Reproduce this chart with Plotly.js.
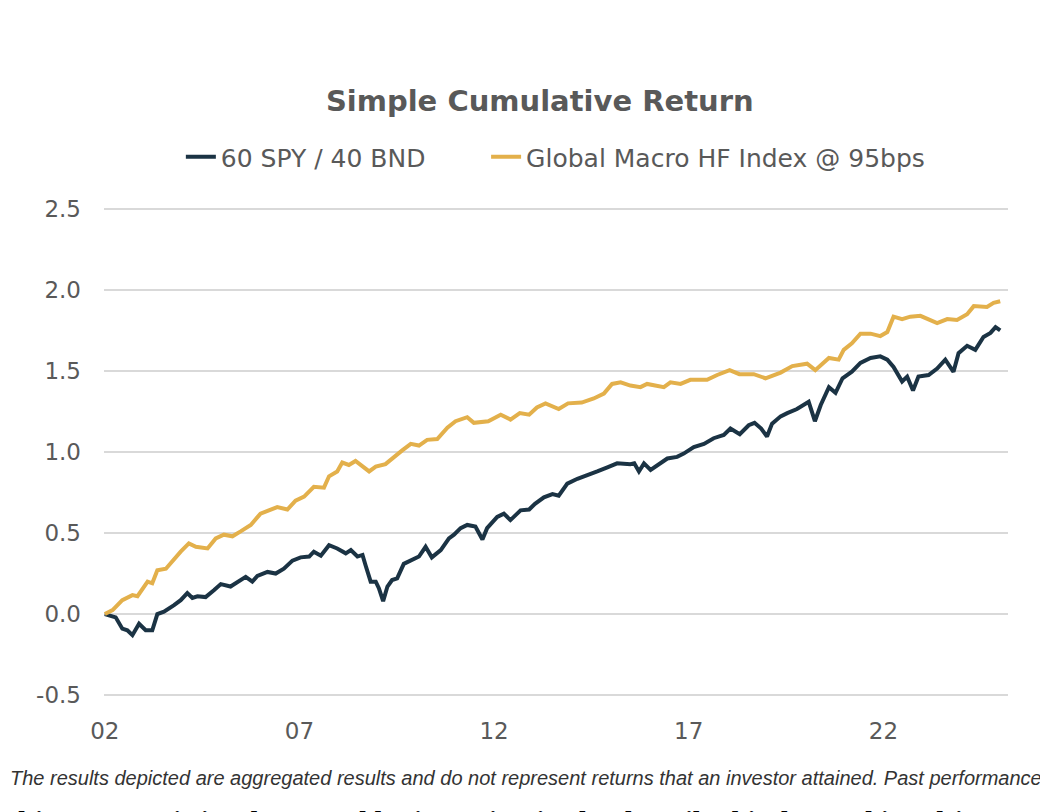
<!DOCTYPE html>
<html>
<head>
<meta charset="utf-8">
<script src="https://cdn.plot.ly/plotly-3.0.1.min.js"></script>
<style>
  html, body { margin: 0; padding: 0; background: #ffffff; }
  #chart { width: 1040px; height: 812px; }
</style>
</head>
<body>
<div id="chart"></div>
<script>
// ---- data (decimal years, cumulative return) ----
const spyYears = [2002.00,2002.28,2002.45,2002.58,2002.71,2002.88,2003.05,2003.22,2003.35,2003.52,2003.78,2003.95,2004.12,2004.25,2004.38,2004.59,2004.81,2004.98,2005.23,2005.41,2005.62,2005.79,2005.92,2006.18,2006.39,2006.60,2006.82,2007.03,2007.25,2007.37,2007.55,2007.76,2007.97,2008.19,2008.32,2008.49,2008.62,2008.70,2008.83,2008.96,2009.04,2009.15,2009.26,2009.38,2009.51,2009.68,2009.86,2010.07,2010.24,2010.40,2010.63,2010.84,2010.97,2011.14,2011.31,2011.52,2011.70,2011.82,2012.08,2012.25,2012.42,2012.68,2012.90,2013.05,2013.28,2013.50,2013.66,2013.88,2014.14,2014.39,2014.65,2014.91,2015.16,2015.50,2015.60,2015.72,2015.85,2016.02,2016.19,2016.45,2016.70,2016.87,2017.13,2017.39,2017.64,2017.90,2018.07,2018.24,2018.31,2018.54,2018.69,2018.86,2019.01,2019.14,2019.36,2019.53,2019.78,2020.08,2020.24,2020.39,2020.60,2020.77,2020.95,2021.19,2021.41,2021.67,2021.92,2022.10,2022.26,2022.48,2022.61,2022.76,2022.90,2023.16,2023.38,2023.59,2023.80,2023.93,2024.15,2024.36,2024.57,2024.75,2024.88,2025.00];
const spyValues = [0.00,-0.02,-0.09,-0.10,-0.13,-0.06,-0.10,-0.10,0.00,0.015,0.055,0.086,0.13,0.10,0.11,0.105,0.148,0.185,0.17,0.20,0.23,0.20,0.235,0.26,0.25,0.28,0.33,0.35,0.355,0.385,0.36,0.425,0.405,0.375,0.395,0.355,0.365,0.30,0.20,0.20,0.16,0.08,0.17,0.21,0.22,0.31,0.33,0.355,0.415,0.35,0.395,0.467,0.49,0.53,0.55,0.54,0.46,0.53,0.60,0.62,0.58,0.64,0.645,0.68,0.72,0.74,0.73,0.805,0.835,0.86,0.88,0.905,0.93,0.925,0.93,0.88,0.93,0.89,0.92,0.96,0.97,0.99,1.03,1.05,1.085,1.105,1.145,1.115,1.11,1.165,1.18,1.145,1.095,1.175,1.22,1.24,1.265,1.31,1.19,1.29,1.40,1.365,1.455,1.495,1.55,1.58,1.59,1.57,1.525,1.435,1.465,1.38,1.465,1.475,1.515,1.57,1.495,1.61,1.655,1.63,1.71,1.735,1.77,1.75];

const hfYears = [2002.00,2002.20,2002.45,2002.71,2002.84,2003.10,2003.22,2003.35,2003.57,2003.78,2003.95,2004.16,2004.34,2004.64,2004.85,2005.06,2005.28,2005.49,2005.75,2006.00,2006.22,2006.43,2006.69,2006.90,2007.12,2007.37,2007.63,2007.76,2007.97,2008.10,2008.27,2008.44,2008.79,2008.96,2009.21,2009.38,2009.64,2009.86,2010.07,2010.28,2010.54,2010.80,2011.01,2011.31,2011.48,2011.85,2012.17,2012.42,2012.66,2012.90,2013.10,2013.32,2013.66,2013.90,2014.25,2014.56,2014.82,2015.03,2015.25,2015.50,2015.76,2015.93,2016.36,2016.53,2016.79,2017.04,2017.47,2017.73,2018.05,2018.30,2018.67,2018.97,2019.36,2019.66,2020.04,2020.25,2020.60,2020.85,2020.98,2021.19,2021.41,2021.67,2021.92,2022.10,2022.26,2022.48,2022.69,2022.95,2023.16,2023.38,2023.64,2023.89,2024.15,2024.32,2024.66,2024.83,2025.00];
const hfValues = [0.00,0.025,0.086,0.117,0.11,0.20,0.19,0.27,0.28,0.34,0.385,0.436,0.415,0.405,0.467,0.49,0.48,0.51,0.55,0.62,0.64,0.66,0.645,0.70,0.725,0.785,0.78,0.85,0.88,0.935,0.92,0.945,0.88,0.91,0.925,0.96,1.01,1.05,1.04,1.075,1.08,1.15,1.19,1.215,1.18,1.19,1.23,1.20,1.24,1.23,1.275,1.30,1.265,1.30,1.305,1.33,1.36,1.42,1.43,1.41,1.40,1.42,1.40,1.43,1.42,1.445,1.445,1.475,1.505,1.48,1.48,1.455,1.49,1.53,1.545,1.505,1.58,1.57,1.63,1.67,1.73,1.73,1.715,1.74,1.835,1.82,1.835,1.84,1.82,1.795,1.82,1.815,1.85,1.90,1.895,1.92,1.93];

const seriesNames = ["60 SPY / 40 BND", "Global Macro HF Index @ 95bps"];
const xTickVals = [2002, 2007, 2012, 2017, 2022];
const xTickText = ["02", "07", "12", "17", "22"];
const yTickVals = [-0.5, 0.0, 0.5, 1.0, 1.5, 2.0, 2.5];
const yTickText = ["-0.5", "0.0", "0.5", "1.0", "1.5", "2.0", "2.5"];
const chartTitle = "Simple Cumulative Return";
const footnote = "The results depicted are aggregated results and do not represent returns that an investor attained. Past performance is not indicative of future results.";
const bottomText = "This strategy is implemented by investing in the described index and is subject to fees and risks.";

const traces = [
  { x: spyYears, y: spyValues, name: seriesNames[0] + "&nbsp;&nbsp;&nbsp;&nbsp;&nbsp;&nbsp;&nbsp;", type: "scatter", mode: "lines",
    line: { color: "#1b3344", width: 4 } },
  { x: hfYears, y: hfValues, name: seriesNames[1], type: "scatter", mode: "lines",
    line: { color: "#e3b04b", width: 4 } }
];

const tickFont = { family: "DejaVu Sans, Verdana, sans-serif", size: 23, color: "#595959" };

// plot area: top 204, bottom 700 (496 px)
const layout = {
  width: 1040, height: 812,
  paper_bgcolor: "#ffffff", plot_bgcolor: "#ffffff",
  margin: { l: 104, r: 32, t: 204, b: 112 },
  title: { text: "<b>" + chartTitle + "</b>", x: 0.519, xref: "container", xanchor: "center",
           y: 0.876, yref: "container", yanchor: "middle",
           font: { family: "DejaVu Sans, Verdana, sans-serif", size: 29, color: "#595959" } },
  showlegend: true,
  legend: { orientation: "h", x: 0.534, xref: "container", xanchor: "center",
            y: 1 - 157/812, yref: "container", yanchor: "middle",
            font: { family: "DejaVu Sans, Verdana, sans-serif", size: 25, color: "#595959" },
            itemwidth: 30, bgcolor: "rgba(0,0,0,0)" },
  xaxis: { range: [2001.98, 2025.2], tickvals: xTickVals, ticktext: xTickText,
           showgrid: false, zeroline: false, showline: false, ticks: "",
           ticklabelstandoff: 15, tickfont: tickFont, fixedrange: true },
  yaxis: { range: [-0.53, 2.53], tickvals: yTickVals, ticktext: yTickText,
           showgrid: true, gridcolor: "#d9d9d9", gridwidth: 2,
           zeroline: false, showline: false, ticks: "",
           ticklabelstandoff: 22, tickfont: tickFont, fixedrange: true },
  annotations: [
    { text: "<i>" + footnote + "</i>", xref: "paper", yref: "paper",
      x: -96/904, y: -(778-700)/496, xanchor: "left", yanchor: "middle", showarrow: false,
      font: { family: "Liberation Sans, Arial, sans-serif", size: 20, color: "#333333" } },
    { text: "<b>" + bottomText + "</b>", xref: "paper", yref: "paper",
      x: -108/904, y: -(821-700)/496, xanchor: "left", yanchor: "middle", showarrow: false,
      font: { family: "Liberation Serif, Times New Roman, serif", size: 30, color: "#000000" } }
  ]
};

Plotly.newPlot("chart", traces, layout, { displayModeBar: false, staticPlot: true });
</script>
</body>
</html>
